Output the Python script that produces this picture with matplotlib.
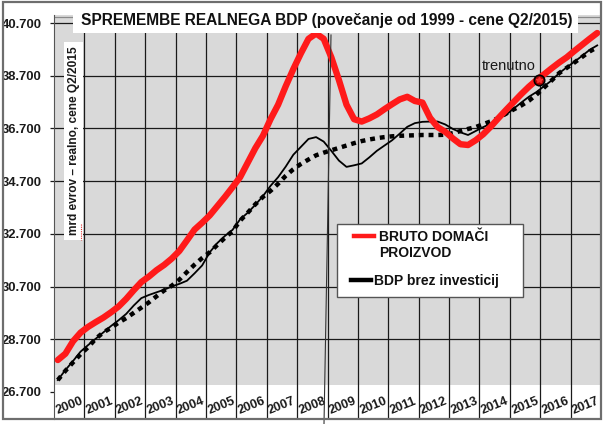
import matplotlib
matplotlib.use("Agg")
import matplotlib.pyplot as plt
import matplotlib.transforms as mtransforms
from matplotlib.patches import Rectangle
from matplotlib.lines import Line2D

plt.rcParams["font.family"] = ["Liberation Sans", "DejaVu Sans"]

# --- podatki (cetrtletno, 2000Q1 .. 2017Q4), mio EUR ---
YEARS = list(range(2000, 2018))
QUARTER_T = [2000.125 + 0.25 * i for i in range(72)]

BDP = [27910, 28150, 28620, 28950, 29170, 29350, 29520, 29720,
       29940, 30230, 30560, 30870, 31080, 31320, 31520, 31760,
       32050, 32450, 32860, 33120, 33400, 33750, 34100, 34470,
       34850, 35400, 35950, 36420, 37050, 37600, 38300, 38950,
       39550, 40100, 40300, 40100, 39400, 38540, 37600, 37050,
       36960, 37080, 37230, 37430, 37620, 37800, 37900, 37740,
       37680, 37100, 36750, 36570, 36320, 36100, 36070, 36250,
       36480, 36770, 37090, 37400, 37700, 38000, 38280, 38530,
       38750, 38980, 39200, 39400, 39640, 39870, 40100, 40320]

BDP_BREZ_INV = [27150, 27530, 27870, 28230, 28480, 28720, 28960, 29200,
                29420, 29660, 29980, 30260, 30380, 30480, 30580, 30700,
                30800, 30920, 31200, 31500, 32000, 32350, 32620, 32850,
                33250, 33500, 33800, 34130, 34520, 34850, 35250, 35700,
                36000, 36300, 36370, 36200, 35850, 35480, 35240, 35300,
                35370, 35600, 35850, 36050, 36250, 36500, 36760, 36900,
                36950, 36960, 36960, 36850, 36680, 36550, 36450, 36600,
                36750, 36880, 37080, 37220, 37450, 37680, 37900, 38080,
                38300, 38520, 38800, 39020, 39230, 39450, 39680, 39850]

TREND = [27150, 27500, 27820, 28130, 28400, 28720, 28960, 29130,
         29330, 29500, 29700, 29900, 30100, 30330, 30550, 30730,
         30960, 31250, 31530, 31780, 32000, 32280, 32550, 32800,
         33200, 33500, 33820, 34100, 34330, 34600, 34900, 35150,
         35350, 35520, 35680, 35780, 35870, 35960, 36050, 36140,
         36220, 36280, 36330, 36370, 36400, 36420, 36430, 36440,
         36450, 36450, 36450, 36460, 36520, 36600, 36680, 36750,
         36860, 36970, 37090, 37260, 37420, 37570, 37750, 37980,
         38250, 38520, 38800, 39000, 39200, 39410, 39620, 39780]

Y_TICKS = [26700, 28700, 30700, 32700, 34700, 36700, 38700, 40700]
Y_LABELS = ["26.700", "28.700", "30.700", "32.700", "34.700", "36.700", "38.700", "40.700"]
CURRENT_T, CURRENT_V = 2015.95, 38540

RED = "#ff1a1a"
GRAYBG = "#d9d9d9"
FRAME = "#6e6e6e"

W, H = 606, 424
fig = plt.figure(figsize=(W / 100, H / 100), dpi=100)
# pikslne koordinate (od zgoraj levo)
px = mtransforms.Affine2D().scale(1 / W, -1 / H).translate(0, 1) + fig.transFigure

ax = fig.add_axes([54 / W, 1 - 419 / H, (601 - 54) / W, (419 - 15) / H])
ax.set_xlim(2000, 2018)
ax.set_ylim(25672, 41004)
ax.set_facecolor("white")

# sivo ozadje nad pasom z letnicami
ax.axhspan(26962, 41004, color=GRAYBG, zorder=0, lw=0)
for v in Y_TICKS[1:]:
    ax.axhline(v, color="#1a1a1a", lw=0.9, zorder=1)
ax.axhline(40928, color="#8a8a8a", lw=0.9, zorder=1)
for yr in YEARS[1:]:
    ax.axvline(yr, color="#1a1a1a", lw=0.9, zorder=1)

ax.plot(QUARTER_T, TREND, color="black", lw=3.2, dashes=(1.1, 1.1),
        dash_capstyle="butt", zorder=3)
ax.plot(QUARTER_T, BDP_BREZ_INV, color="black", lw=1.3, zorder=4)
ax.plot(QUARTER_T, BDP, color=RED, lw=4.6, solid_capstyle="round", zorder=5)

ax.plot([CURRENT_T], [CURRENT_V], marker="o", markersize=7.5,
        markerfacecolor="#b00000", markeredgecolor="black", markeredgewidth=1.2, zorder=6)
ax.plot([CURRENT_T], [CURRENT_V], marker="*", markersize=4, color="#ff3030", zorder=7)
ax.text(CURRENT_T - 1.0, CURRENT_V + 520, "trenutno", ha="center", va="center",
        fontsize=10.5, color="#1a1a1a", zorder=7)

# letnice v belem pasu
for yr in YEARS:
    ax.text(yr + 0.5, 26160, str(yr), ha="center", va="center", rotation=22,
            fontsize=9.2, fontweight="bold", color="#1a1a1a")

ax.set_xticks([])
ax.set_yticks(Y_TICKS)
ax.set_yticklabels(Y_LABELS, fontsize=9.4, fontweight="bold", color="#1a1a1a")
ax.tick_params(axis="y", length=3, width=0.9, pad=6, color="#1a1a1a")
ax.spines["top"].set_visible(False)
ax.spines["left"].set_color("#555555")
ax.spines["right"].set_visible(False)
ax.spines["bottom"].set_visible(False)

# zunanji okvir
fig.patches.append(Rectangle((3, 2), 598, 417, transform=px, fill=False,
                             edgecolor=FRAME, lw=1.6, zorder=10))

# naslov
fig.patches.append(Rectangle((73, 4), 505, 29, transform=px, facecolor="white",
                             edgecolor="none", zorder=8))
fig.text(327, 25, "SPREMEMBE REALNEGA BDP (povečanje od 1999 - cene Q2/2015)",
         transform=px, ha="center", va="baseline", fontsize=11.2,
         fontweight="bold", color="#111111", zorder=9)

# oznaka osi y v belem okvirju
fig.patches.append(Rectangle((64, 42), 19, 198, transform=px, facecolor="white",
                             edgecolor="none", zorder=8))
fig.text(73.5, 141, "mrd evrov – realno, cene Q2/2015", transform=px, rotation=90,
         ha="center", va="center", fontsize=8.6, fontweight="bold",
         color="#1a1a1a", zorder=9)
fig.lines.append(Line2D([81, 81], [224, 240], transform=px, color="#e03030",
                        lw=0.8, dashes=(1, 1), zorder=9))

# tanka posevna crta pri 2008
fig.lines.append(Line2D([331, 324], [35, 424], transform=px, color="#333333",
                        lw=0.8, zorder=9))

# legenda
fig.patches.append(Rectangle((337, 224), 186, 73, transform=px, facecolor="white",
                             edgecolor="#555555", lw=1.0, zorder=8))
fig.lines.append(Line2D([354, 374], [236, 236], transform=px, color=RED, lw=3.2, zorder=9))
fig.text(379, 230, "BRUTO DOMAČI\nPROIZVOD", transform=px, ha="left", va="top",
         fontsize=10, fontweight="bold", color="#111111", linespacing=1.15, zorder=9)
fig.lines.append(Line2D([351, 371], [280, 280], transform=px, color="black", lw=3.2, zorder=9))
fig.text(374, 281, "BDP brez investicij", transform=px, ha="left", va="center",
         fontsize=10, fontweight="bold", color="#111111", zorder=9)

fig.savefig("out.png", dpi=100)
